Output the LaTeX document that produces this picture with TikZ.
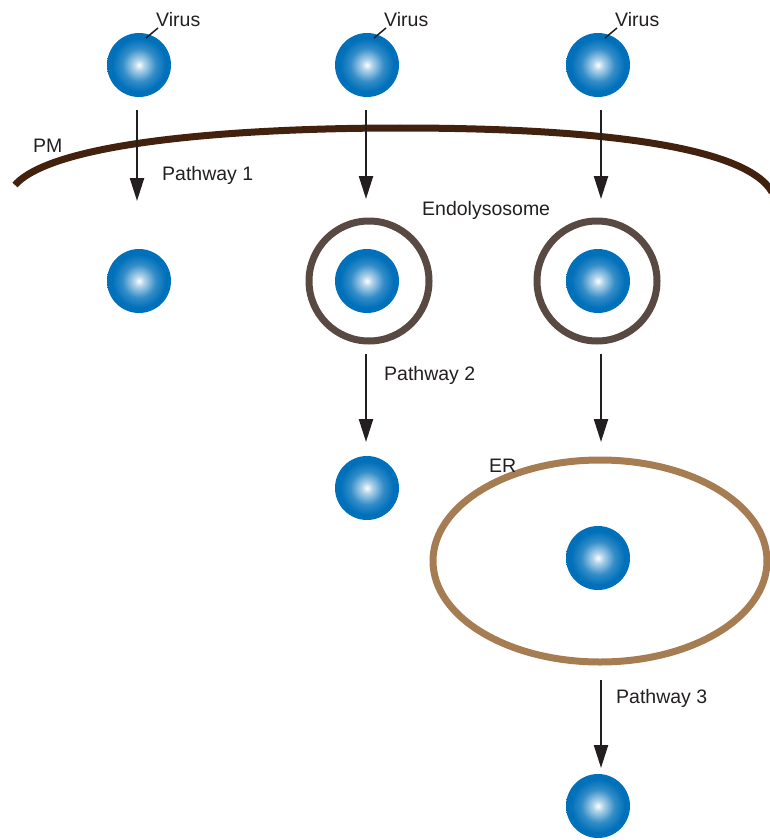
\documentclass[tikz,border=0pt]{standalone}
\usepackage{fontspec}
\setmainfont{Liberation Sans}
\usetikzlibrary{arrows.meta}
\definecolor{vblue}{RGB}{0,112,186}
\definecolor{txt}{RGB}{35,31,32}
\definecolor{pmcol}{RGB}{66,34,14}
\definecolor{endocol}{RGB}{88,74,66}
\definecolor{ercol}{RGB}{166,124,82}
\pgfdeclareradialshading{virusball}{\pgfpoint{0bp}{0bp}}{color(0bp)=(white); color(4bp)=(white!70!vblue); color(13bp)=(vblue!80!white); color(21bp)=(vblue); color(25bp)=(vblue); color(50bp)=(vblue)}
\tikzset{
  virus/.style={circle, minimum size=64pt, inner sep=0pt, shading=virusball},
  lbl/.style={font=\fontsize{19.5}{22}\selectfont, text=txt, inner sep=0pt},
  flow/.style={draw=txt, line width=2.3pt, -{Triangle[length=23pt,width=14pt]}},
  lead/.style={draw=txt, line width=1.5pt},
  endo/.style={draw=endocol, line width=7pt},
  er/.style={draw=ercol, line width=7pt},
  pm/.style={draw=pmcol, line width=7pt}
}
\begin{document}
\begin{tikzpicture}[x=1pt,y=-1pt]
\useasboundingbox (0,0) rectangle (770,840);
% plasma membrane
\draw[pm] (15,185) .. controls (55,140) and (250,128) .. (400,128)
  .. controls (590,128) and (745,145) .. (772,192);
% endolysosomes and ER
\node[endo, circle, minimum size=120pt, inner sep=0pt] (endo1) at (369,281) {};
\node[endo, circle, minimum size=120pt, inner sep=0pt] (endo2) at (597,281) {};
\draw[er] (600,561) ellipse [x radius=167, y radius=101];
% viruses
\node[virus] (v1) at (139,65) {};
\node[virus] (v2) at (367,65) {};
\node[virus] (v3) at (598,65) {};
\node[virus] (w1) at (139,281) {};
\node[virus] (w2) at (367,281) {};
\node[virus] (w3) at (598,281) {};
\node[virus] (x2) at (367,488) {};
\node[virus] (x3) at (598,558) {};
\node[virus] (y3) at (598,806) {};
% labels
\foreach \i/\x in {1/139,2/367,3/598}{
  \node[lbl, anchor=west] (vl\i) at (\x+17,20) {Virus};
  \coordinate (ls\i) at (\x+7,38);
  \coordinate (le\i) at (\x+19,28);
  \draw[lead] (ls\i) -- (le\i);
}
\node[lbl, anchor=west] (pml) at (33,146) {PM};
\node[lbl, anchor=west] (p1) at (162,175) {Pathway 1};
\node[lbl, anchor=west] (el) at (422,210) {Endolysosome};
\node[lbl, anchor=west] (p2) at (384,375) {Pathway 2};
\node[lbl, anchor=west] (erl) at (489,466) {ER};
\node[lbl, anchor=west] (p3) at (616,698) {Pathway 3};
% arrows
\coordinate (a1s) at (137,110); \coordinate (a1e) at (137,201);
\coordinate (a2s) at (366,110); \coordinate (a2e) at (366,199);
\coordinate (a3s) at (601,110); \coordinate (a3e) at (601,199);
\coordinate (b2s) at (366,354); \coordinate (b2e) at (366,442);
\coordinate (b3s) at (601,354); \coordinate (b3e) at (601,442);
\coordinate (c3s) at (601,680); \coordinate (c3e) at (601,768);
\draw[flow] (a1s) -- (a1e);
\draw[flow] (a2s) -- (a2e);
\draw[flow] (a3s) -- (a3e);
\draw[flow] (b2s) -- (b2e);
\draw[flow] (b3s) -- (b3e);
\draw[flow] (c3s) -- (c3e);
\end{tikzpicture}
\end{document}
